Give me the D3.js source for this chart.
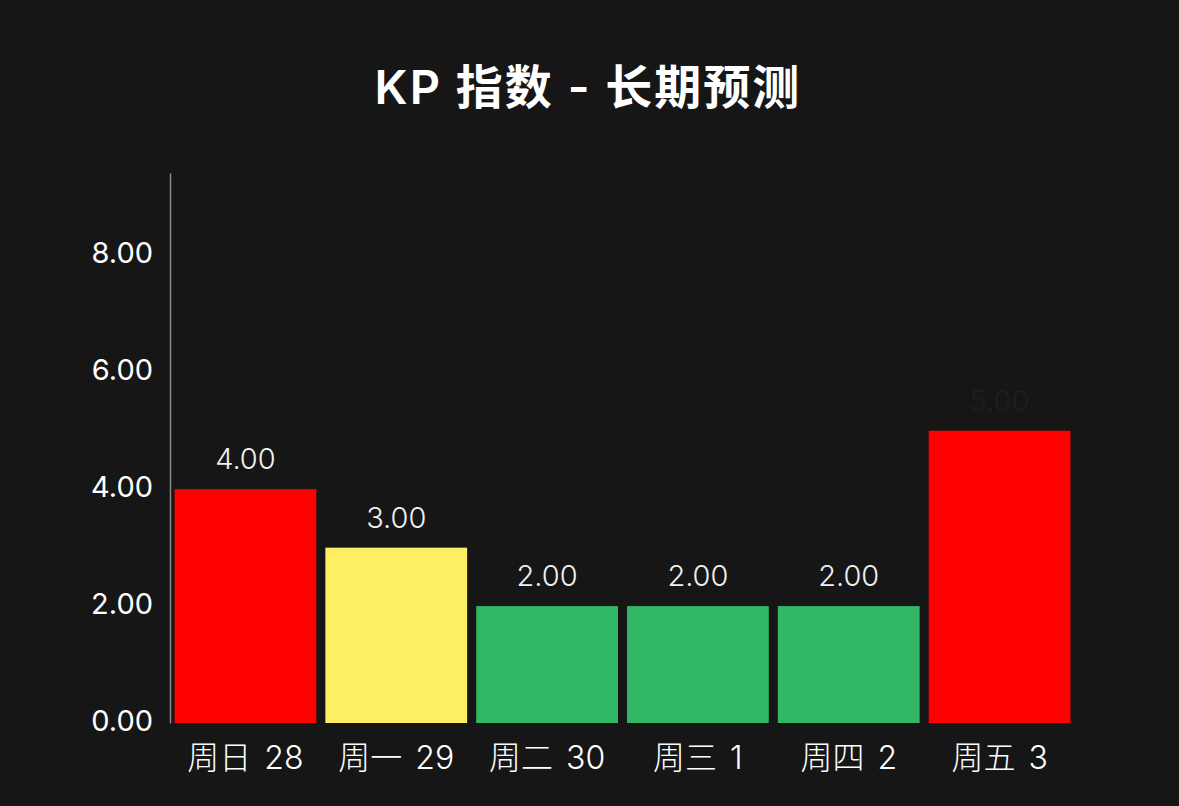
<!DOCTYPE html>
<html>
<head>
<meta charset="utf-8">
<script src="https://cdn.jsdelivr.net/npm/d3@7"></script>
<style>
html,body{margin:0;padding:0;background:#161616;}
svg{display:block;}
text{font-family:Inter,"Noto Sans CJK SC",sans-serif;}
</style>
</head>
<body>
<div id="chart"></div>
<script>
var days=["周日 28","周一 29","周二 30","周三 1","周四 2","周五 3"];
var kp=[4,3,2,2,2,5];
var colors=["#ff0000","#fdee63","#32b865","#32b865","#32b865","#ff0000"];
var yticks=[0,2,4,6,8];
var title="KP 指数 - 长期预测";

var wide=1179;
var high=806;
var svg=d3
  .select("#chart")
  .append("svg")
  .attr("width",wide)
  .attr("height",high);
svg.append("rect").attr("width",wide).attr("height",high).attr("fill","#161616");

var xscale=d3
  .scaleBand()
  .domain(days)
  .range([170,1075])
  .paddingInner(0.06)
  .paddingOuter(0.03);
var yscale=d3
  .scaleLinear()
  .domain([0,9.41])
  .range([723,173]);

svg
  .append("text")
  .attr("x",588)
  .attr("y",104)
  .attr("text-anchor","middle")
  .attr("fill","#ffffff")
  .attr("font-size",47)
  .attr("font-weight",600)
  .attr("letter-spacing",2)
  .text(title);

// y axis
var yaxis=d3.axisLeft(yscale)
  .tickValues(yticks)
  .tickSize(0)
  .tickPadding(17)
  .tickFormat(d3.format(".2f"));
var yg=svg
  .append("g")
  .attr("transform","translate(170,-2)")
  .call(yaxis);
yg.select(".domain").attr("stroke","#8a8a8a").attr("stroke-width",1.5).attr("transform","translate(0,2)");
yg.selectAll("text")
  .attr("fill","#ffffff")
  .attr("font-size",29)
  .attr("font-family","Inter,sans-serif");

// bars
svg
  .selectAll(".bar")
  .data(kp)
  .enter()
  .append("rect")
  .attr("class","bar")
  .attr("x",function(d,i){return xscale(days[i]);})
  .attr("y",function(d){return yscale(d);})
  .attr("width",xscale.bandwidth())
  .attr("height",function(d){return yscale(0)-yscale(d);})
  .attr("fill",function(d,i){return colors[i];});

// value labels
svg
  .selectAll(".val")
  .data(kp)
  .enter()
  .append("text")
  .attr("class","val")
  .attr("x",function(d,i){return xscale(days[i])+xscale.bandwidth()/2;})
  .attr("y",function(d){return yscale(d)-20;})
  .attr("text-anchor","middle")
  .attr("font-size",29)
  .attr("font-weight",300)
  .attr("font-family","Inter,sans-serif")
  .attr("fill",function(d,i){return i===kp.length-1?"#1f1f1f":"#f0f0f0";})
  .text(function(d){return d3.format(".2f")(d);});

// x axis
var xaxis=d3.axisBottom(xscale).tickSize(0).tickPadding(23);
var xg=svg
  .append("g")
  .attr("transform","translate(0,723)")
  .call(xaxis);
xg.select(".domain").remove();
xg.selectAll("text")
  .attr("fill","#ffffff")
  .attr("font-size",32)
  .attr("font-weight",300)
  .attr("font-family","Inter,\"Noto Sans CJK SC\",sans-serif")
  .attr("word-spacing",4);
</script>
</body>
</html>
